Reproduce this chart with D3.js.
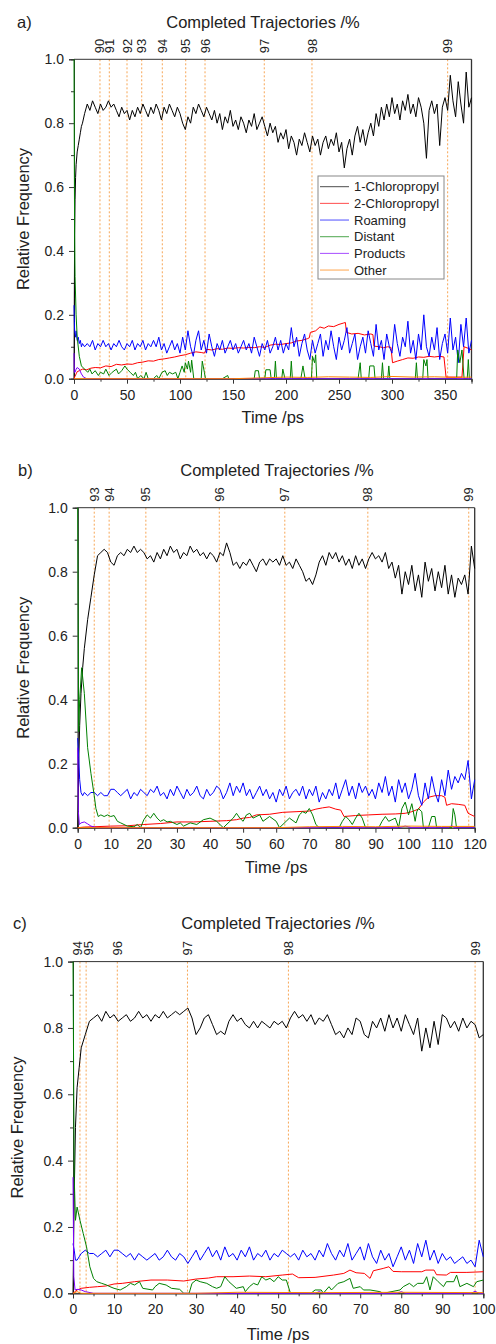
<!DOCTYPE html>
<html><head><meta charset="utf-8">
<script src="https://cdn.jsdelivr.net/npm/d3@7"></script>
<style>
body{margin:0;background:#fff;}
svg text{font-family:"Liberation Sans",Arial,sans-serif;fill:#222;}
</style>
</head><body>
<svg id="chart" width="496" height="1344"></svg>
<script>
// ---------------- DATA ----------------
const seriesNames = ["1-Chloropropyl","2-Chloropropyl","Roaming","Distant","Products","Other"];
const seriesColors = ["#000000","#ff0000","#0000ff","#008000","#8000ff","#ff8000"];

// Panel a
const aPctLabels = ["90","91","92","93","94","95","96","97","98","99"];
const aPctTimes = [24.5,33.3,50,63.9,83.3,105.4,123.6,179.5,224.5,352.5];
const aXTicks = [0,50,100,150,200,250,300,350];
const aXMinor = [25,75,125,175,225,275,325,375];
const aTime = [0,0.3,0.6,1,1.5,2,3,4,5,6,7,8,10].concat(d3.range(12.5, 375.01, 2.5));
const aChloro1 = [0.0,0.25,0.45,0.56,0.63,0.67,0.71,0.73,0.75,0.77,0.79,0.80,0.83,
 0.86,0.84,0.87,0.85,0.83,0.86,0.84,0.85,0.87,0.85,
 0.86,0.84,0.82,0.85,0.83,0.84,0.81,0.84,0.82,0.85,
 0.83,0.86,0.84,0.82,0.85,0.83,0.86,0.84,0.81,0.85,
 0.83,0.86,0.84,0.82,0.85,0.83,0.80,0.78,0.82,0.80,
 0.85,0.83,0.86,0.84,0.82,0.85,0.83,0.81,0.84,0.80,
 0.83,0.78,0.82,0.80,0.84,0.79,0.81,0.78,0.82,0.80,
 0.77,0.81,0.79,0.83,0.78,0.80,0.82,0.79,0.76,0.80,
 0.77,0.79,0.74,0.77,0.75,0.78,0.72,0.76,0.74,0.70,
 0.75,0.73,0.77,0.74,0.71,0.76,0.73,0.75,0.70,0.74,
 0.76,0.72,0.75,0.73,0.77,0.71,0.74,0.66,0.72,0.75,
 0.70,0.76,0.79,0.74,0.78,0.73,0.77,0.80,0.76,0.83,
 0.79,0.85,0.81,0.86,0.82,0.88,0.83,0.86,0.81,0.87,
 0.84,0.89,0.83,0.86,0.82,0.88,0.85,0.80,0.69,0.84,
 0.87,0.83,0.86,0.73,0.85,0.88,0.84,0.95,0.87,0.82,
 0.93,0.86,0.80,0.96,0.85,0.88];
const aRoaming = [0.23,0.18,0.15,0.14,0.13,0.15,0.12,0.13,0.11,0.12,0.10,0.11,0.10,
 0.11,0.10,0.12,0.09,0.11,0.10,0.12,0.10,0.11,0.09,
 0.11,0.10,0.12,0.10,0.09,0.11,0.10,0.12,0.09,0.11,
 0.10,0.12,0.09,0.11,0.10,0.12,0.10,0.13,0.09,0.11,
 0.08,0.10,0.12,0.09,0.11,0.08,0.13,0.09,0.15,0.10,
 0.07,0.12,0.15,0.09,0.12,0.08,0.14,0.10,0.07,0.11,
 0.09,0.12,0.08,0.10,0.12,0.09,0.11,0.08,0.10,0.12,
 0.09,0.11,0.08,0.13,0.10,0.07,0.11,0.09,0.12,0.08,
 0.10,0.13,0.09,0.12,0.08,0.11,0.09,0.16,0.10,0.13,
 0.07,0.11,0.14,0.09,0.06,0.12,0.08,0.11,0.14,0.07,
 0.12,0.09,0.15,0.10,0.06,0.13,0.09,0.12,0.16,0.08,
 0.11,0.14,0.06,0.10,0.13,0.08,0.15,0.11,0.07,0.17,
 0.09,0.12,0.06,0.14,0.10,0.08,0.17,0.11,0.07,0.13,
 0.10,0.18,0.08,0.12,0.06,0.14,0.09,0.20,0.10,0.07,
 0.13,0.09,0.16,0.06,0.11,0.14,0.08,0.19,0.09,0.13,
 0.05,0.17,0.10,0.19,0.08,0.12];
const aChloro2 = [[0,0],[1,0.008],[2,0.015],[3,0.022],[5,0.025],[8,0.03],[12,0.028],[16,0.033],[20,0.035],[25,0.034],[30,0.04],[35,0.038],[40,0.045],[45,0.043],[50,0.046],[55,0.045],[60,0.05],[65,0.052],[70,0.056],[75,0.055],[80,0.06],[85,0.062],[90,0.065],[95,0.068],[100,0.072],[105,0.075],[110,0.08],[115,0.084],[120,0.082],[123,0.08],[125,0.092],[130,0.09],[135,0.094],[140,0.092],[145,0.096],[150,0.095],[155,0.097],[160,0.096],[165,0.098],[170,0.097],[175,0.1],[180,0.098],[185,0.105],[190,0.108],[195,0.107],[200,0.11],[205,0.112],[210,0.118],[215,0.12],[220,0.125],[222,0.128],[223,0.145],[228,0.15],[232,0.162],[236,0.158],[240,0.165],[245,0.163],[250,0.17],[254,0.174],[256,0.176],[257,0.145],[262,0.14],[268,0.142],[274,0.137],[280,0.14],[282,0.138],[283,0.102],[288,0.1],[292,0.097],[296,0.1],[299,0.098],[300.5,0.05],[305,0.055],[310,0.06],[315,0.065],[320,0.064],[325,0.068],[330,0.067],[335,0.07],[340,0.068],[345,0.07],[349,0.068],[351,0.005],[366,0.005],[368,0.1],[372,0.095],[375,0.09]];
const aDistant = [[0,1.0],[0.3,0.68],[0.6,0.45],[1,0.32],[2,0.2],[3,0.13],[5,0.07],[7,0.04],[10,0.03],[13,0.02],[15,0.03],[17,0.015],[20,0.025],[23,0.01],[25,0.02],[28,0.015],[30,0.03],[33,0.01],[36,0.02],[40,0.03],[42,0.015],[45,0.025],[48,0.04],[50,0.03],[53,0.02],[56,0.01],[58,0.02],[60,0.0],[63,0.01],[66,0.0],[68,0.02],[70,0.0],[75,0.0],[78,0.01],[80,0.0],[83,0.02],[86,0.025],[88,0.01],[90,0.02],[93,0.015],[96,0.02],[98,0.0],[100,0.02],[102,0.04],[104,0.02],[105,0.05],[107,0.03],[108,0.055],[110,0.02],[111,0.058],[113,0.0],[120,0.0],[121,0.055],[123,0.02],[124,0.0],[140,0.0],[145,0.01],[146,0.0],[170,0.0],[171,0.025],[174,0.025],[175,0.0],[180,0.0],[181,0.028],[185,0.028],[186,0.0],[189,0.0],[190,0.055],[191,0.0],[196,0.0],[197,0.03],[199,0.0],[204,0.0],[205,0.055],[206,0.0],[214,0.0],[216,0.04],[218,0.0],[224,0.0],[225,0.07],[227,0.05],[228,0.075],[229,0.0],[268,0.0],[270,0.05],[271,0.0],[278,0.0],[279,0.04],[283,0.04],[284,0.0],[290,0.0],[291,0.05],[292,0.0],[296,0.0],[297,0.04],[298,0.0],[322,0.0],[323,0.05],[324,0.0],[329,0.0],[330,0.06],[332,0.04],[333,0.06],[334,0.0],[361,0.0],[362,0.09],[364,0.05],[366,0.09],[368,0.0],[371,0.0],[372,0.06],[373,0.0],[375,0.0]];
const aProducts = [[0,0.08],[0.3,0.02],[1,0.02],[2,0.03],[3,0.035],[5,0.03],[7,0.015],[9,0.005],[12,0],[375,0]];
const aOther = [[0,0],[150,0],[180,0.003],[200,0.005],[220,0.004],[240,0.006],[260,0.005],[280,0.004],[300,0.007],[320,0.005],[340,0.006],[360,0.004],[375,0.005]];

// Panel b
const bPctLabels = ["93","94","95","96","97","98","99"];
const bPctTimes = [5.0,9.5,20.6,42.8,62.6,87.7,118.2];
const bXTicks = [0,10,20,30,40,50,60,70,80,90,100,110,120];
const bXMinor = [5,15,25,35,45,55,65,75,85,95,105,115];
const bTime = [0,0.3,0.6,1,1.5,2,3,4,5,6,7,8].concat(d3.range(9, 120.01, 1));
const bChloro1 = [0.0,0.2,0.32,0.42,0.50,0.56,0.65,0.72,0.79,0.85,0.86,0.87,
 0.86,0.83,0.82,0.85,0.86,0.85,0.87,0.86,0.88,0.86,
 0.87,0.86,0.84,0.85,0.83,0.86,0.84,0.87,0.85,0.88,
 0.86,0.87,0.84,0.86,0.85,0.88,0.86,0.87,0.85,0.86,
 0.84,0.86,0.85,0.83,0.86,0.85,0.89,0.86,0.82,0.83,
 0.81,0.83,0.82,0.84,0.82,0.80,0.83,0.84,0.82,0.84,
 0.83,0.84,0.82,0.85,0.82,0.83,0.81,0.84,0.82,0.80,
 0.77,0.78,0.76,0.79,0.83,0.85,0.82,0.86,0.84,0.86,
 0.83,0.85,0.82,0.84,0.81,0.85,0.82,0.84,0.81,0.84,
 0.86,0.84,0.85,0.83,0.86,0.81,0.83,0.78,0.82,0.73,
 0.80,0.76,0.82,0.74,0.79,0.72,0.83,0.77,0.81,0.74,
 0.80,0.75,0.82,0.73,0.79,0.72,0.78,0.76,0.79,0.73,
 0.88,0.81];
const bRoaming = [0.28,0.22,0.15,0.11,0.10,0.11,0.10,0.11,0.11,0.10,0.11,0.10,
 0.10,0.12,0.12,0.11,0.10,0.11,0.12,0.09,0.11,0.10,
 0.12,0.11,0.10,0.12,0.11,0.13,0.10,0.11,0.09,0.12,
 0.10,0.13,0.11,0.09,0.12,0.10,0.11,0.13,0.10,0.09,
 0.12,0.10,0.11,0.13,0.12,0.09,0.11,0.14,0.10,0.13,
 0.11,0.14,0.10,0.12,0.09,0.11,0.13,0.10,0.12,0.09,
 0.11,0.08,0.12,0.10,0.13,0.09,0.11,0.12,0.10,0.13,
 0.09,0.12,0.10,0.13,0.08,0.11,0.09,0.12,0.10,0.14,
 0.09,0.12,0.15,0.10,0.13,0.09,0.14,0.11,0.13,0.10,
 0.12,0.09,0.14,0.11,0.16,0.10,0.13,0.08,0.15,0.11,
 0.14,0.09,0.12,0.17,0.10,0.07,0.14,0.09,0.16,0.11,
 0.08,0.15,0.10,0.18,0.12,0.16,0.14,0.17,0.15,0.21,
 0.09,0.15];
const bChloro2 = [[0,0],[2,0.002],[5,0.003],[10,0.005],[15,0.006],[20,0.01],[25,0.013],[30,0.018],[35,0.018],[40,0.02],[45,0.022],[48,0.025],[50,0.03],[52,0.032],[54,0.04],[58,0.042],[62,0.048],[66,0.05],[70,0.052],[72,0.058],[74,0.062],[76,0.065],[78,0.058],[79.5,0.055],[80.5,0.035],[84,0.038],[88,0.04],[92,0.042],[96,0.043],[99,0.045],[101,0.05],[103,0.058],[104.5,0.08],[106,0.095],[108,0.1],[110,0.1],[111,0.095],[111.5,0.07],[113,0.075],[115,0.073],[117,0.07],[118,0.045],[120,0.035]];
const bDistant = [[0,1.0],[0.3,0.3],[0.6,0.4],[1.2,0.5],[2,0.42],[3,0.25],[4,0.17],[5,0.1],[5.5,0.06],[6.2,0.035],[7,0.04],[8,0.035],[9,0.04],[10,0.035],[11,0.038],[12,0.02],[13,0.015],[15,0.005],[17,0.003],[18,0.01],[19,0.0],[20,0.025],[21,0.04],[22,0.03],[23,0.045],[24,0.03],[25,0.02],[26,0.025],[27,0.018],[28,0.02],[30,0.01],[31,0.015],[32,0.005],[34,0.015],[36,0.01],[38,0.025],[40,0.03],[42,0.02],[44,0.0],[46,0.02],[47,0.03],[48,0.045],[49,0.03],[50,0.02],[51,0.04],[52,0.045],[53,0.03],[55,0.04],[56,0.02],[58,0.035],[60,0.02],[61,0.0],[63,0.02],[64,0.03],[66,0.015],[67,0.04],[68,0.05],[69,0.045],[70,0.06],[71,0.04],[72,0.01],[73,0.0],[79,0.0],[80,0.02],[81,0.035],[82,0.025],[83,0.01],[84,0.03],[85,0.045],[86,0.03],[87,0.0],[91,0.0],[92,0.02],[93,0.035],[94,0.02],[96,0.03],[97,0.0],[98,0.06],[99,0.08],[100,0.04],[101,0.075],[102,0.02],[102.5,0.05],[103,0.06],[104,0.05],[104.5,0.0],[106,0.0],[107,0.035],[108,0.035],[108.5,0.0],[113,0.0],[113.5,0.06],[114,0.04],[114.5,0.0],[120,0.0]];
const bProducts = [[0,0.25],[0.2,0.05],[0.5,0.01],[1,0.015],[2,0.018],[3,0.012],[4,0.005],[6,0.0],[97,0.0],[99,0.005],[101,0.0],[112,0.0],[113,0.006],[114,0.0],[120,0.0]];
const bOther = [[0,0],[60,0],[70,0.003],[80,0.004],[90,0.003],[100,0.005],[110,0.004],[120,0.004]];

// Panel c
const cPctLabels = ["94","95","96","97","98","99"];
const cPctTimes = [1.7,3.2,10.8,27.9,52.5,98.0];
const cXTicks = [0,10,20,30,40,50,60,70,80,90,100];
const cXMinor = [5,15,25,35,45,55,65,75,85,95];
const cTime = [0,0.3,0.6,1,1.5,2,3,4].concat(d3.range(5, 100.01, 1));
const cChloro1 = [0.0,0.3,0.5,0.62,0.68,0.74,0.78,0.82,
 0.83,0.84,0.82,0.85,0.83,0.84,0.82,0.83,0.84,0.82,
 0.83,0.85,0.83,0.84,0.82,0.84,0.83,0.85,0.83,0.84,
 0.85,0.84,0.85,0.86,0.83,0.78,0.80,0.83,0.84,0.81,
 0.78,0.79,0.78,0.82,0.84,0.82,0.83,0.81,0.80,0.82,
 0.80,0.82,0.81,0.80,0.82,0.81,0.82,0.80,0.83,0.85,
 0.83,0.84,0.82,0.84,0.81,0.83,0.82,0.84,0.81,0.78,
 0.79,0.77,0.80,0.78,0.83,0.82,0.78,0.77,0.82,0.80,
 0.83,0.79,0.84,0.80,0.83,0.79,0.84,0.81,0.78,0.83,
 0.73,0.80,0.74,0.82,0.75,0.84,0.83,0.80,0.82,0.79,
 0.83,0.80,0.82,0.81,0.77,0.78];
const cRoaming = [0.15,0.13,0.10,0.10,0.11,0.12,0.13,0.12,
 0.12,0.11,0.12,0.13,0.11,0.13,0.13,0.12,0.11,0.12,
 0.10,0.12,0.11,0.10,0.11,0.12,0.10,0.11,0.13,0.11,
 0.10,0.12,0.11,0.09,0.11,0.13,0.10,0.12,0.14,0.11,
 0.13,0.10,0.14,0.11,0.12,0.10,0.13,0.11,0.14,0.10,
 0.12,0.11,0.13,0.10,0.12,0.11,0.13,0.12,0.11,0.12,
 0.10,0.13,0.11,0.12,0.10,0.13,0.11,0.15,0.12,0.10,
 0.13,0.11,0.15,0.10,0.12,0.14,0.10,0.15,0.11,0.09,
 0.13,0.10,0.12,0.08,0.11,0.14,0.10,0.13,0.09,0.15,
 0.11,0.16,0.10,0.13,0.09,0.12,0.10,0.11,0.09,0.10,
 0.11,0.09,0.10,0.08,0.16,0.11];
const cChloro2 = [[0,0],[0.5,0.005],[1,0.01],[2,0.015],[4,0.018],[6,0.02],[8,0.022],[10,0.028],[12,0.03],[15,0.035],[19,0.04],[23,0.04],[27,0.037],[30,0.043],[33,0.046],[35,0.05],[39,0.05],[43,0.052],[47,0.05],[51,0.055],[53.5,0.058],[55,0.047],[59,0.048],[63.5,0.055],[66,0.06],[67.5,0.07],[69,0.062],[71,0.06],[72.4,0.045],[73.2,0.068],[75.6,0.075],[77,0.08],[78,0.066],[80,0.065],[85,0.065],[86,0.07],[88,0.07],[88.6,0.056],[91,0.055],[92,0.063],[96,0.063],[100,0.065]];
const cDistant = [[0,1.0],[0.3,0.35],[0.6,0.22],[1,0.26],[1.7,0.22],[2.5,0.18],[3.3,0.14],[4.1,0.08],[5,0.045],[5.8,0.035],[7,0.03],[8.2,0.025],[9,0.02],[10,0.015],[11.5,0.01],[13,0.02],[14,0.03],[15,0.025],[16.2,0.035],[17,0.015],[19.4,0.01],[20,0.02],[21,0.03],[22.7,0.025],[24,0.015],[26,0.012],[27,0.0],[28.3,0.0],[29,0.03],[30,0.04],[31,0.035],[32.6,0.03],[34,0.02],[35,0.015],[36,0.02],[37,0.05],[38,0.035],[39.8,0.015],[41.5,0.02],[42,0.005],[43,0.02],[44,0.03],[45,0.025],[46,0.05],[47,0.04],[48,0.045],[49,0.035],[50,0.05],[51,0.04],[52,0.04],[53,0.0],[58,0.0],[59,0.01],[60.5,0.01],[61,0.0],[62.4,0.02],[63,0.01],[64.6,0.03],[66,0.035],[67.5,0.045],[68.3,0.015],[70,0.02],[70.8,0.01],[72.4,0.01],[74.8,0.005],[75.6,0.0],[79.7,0.01],[80.5,0.02],[82,0.03],[83,0.02],[84,0.03],[85.4,0.03],[86.2,0.05],[87,0.01],[87.8,0.05],[89,0.035],[90.3,0.02],[91,0.035],[92.8,0.035],[93.5,0.055],[94.3,0.02],[96,0.03],[97.6,0.02],[98.4,0.035],[100,0.04]];
const cProducts = [[0,0.35],[0.2,0.05],[0.5,0.01],[1,0.012],[2,0.01],[3,0.005],[5,0],[59,0],[60,0.005],[61,0],[79,0],[80,0.005],[81,0],[97,0],[98,0.006],[99,0],[100,0]];
const cOther = [[0,0],[1,0.005],[2,0],[30,0],[40,0.003],[60,0.002],[80,0.003],[100,0.002]];

// ---------------- LAYOUT ----------------
const panels = [
  {key:"a", tag:"a)", left:74, right:471.5, top:59.3, bottom:378.7, xMax:375,
   xTicks:aXTicks, xMinor:aXMinor, pctTimes:aPctTimes, pctLabels:aPctLabels,
   series:[d3.zip(aTime,aChloro1), aChloro2, d3.zip(aTime,aRoaming), aDistant, aProducts, aOther],
   tagX:17, titleY:28, titleX:263, xLabelY:423, yLabelX:29, legend:true},
  {key:"b", tag:"b)", left:77.7, right:474.7, top:507.7, bottom:827.7, xMax:120,
   xTicks:bXTicks, xMinor:bXMinor, pctTimes:bPctTimes, pctLabels:bPctLabels,
   series:[d3.zip(bTime,bChloro1), bChloro2, d3.zip(bTime,bRoaming), bDistant, bProducts, bOther],
   tagX:18, titleY:476, titleX:277, xLabelY:873, yLabelX:29, legend:false},
  {key:"c", tag:"c)", left:73, right:483.3, top:961.6, bottom:1293.3, xMax:100,
   xTicks:cXTicks, xMinor:cXMinor, pctTimes:cPctTimes, pctLabels:cPctLabels,
   series:[d3.zip(cTime,cChloro1), cChloro2, d3.zip(cTime,cRoaming), cDistant, cProducts, cOther],
   tagX:13, titleY:929, titleX:278, xLabelY:1340, yLabelX:23, legend:false}
];

const svg = d3.select("#chart");
const yMajor = [0,0.2,0.4,0.6,0.8,1.0];
const yMinor = [0.1,0.3,0.5,0.7,0.9];
const labelMinGap = 10.5;

function styleAxis(g){
  g.selectAll("path,line").attr("stroke","#333");
  g.selectAll("text").attr("font-size",14).attr("font-family","Liberation Sans, Arial, sans-serif").attr("fill","#222");
}

// spread neighbouring rotated labels so they do not overlap
function spread(pos){
  const p = pos.slice();
  for (let it=0; it<20; it++){
    for (let i=1;i<p.length;i++){
      const gap = p[i]-p[i-1];
      if (gap < labelMinGap){ const d=(labelMinGap-gap)/2; p[i-1]-=d; p[i]+=d; }
    }
  }
  return p;
}

panels.forEach(p => {
  const x = d3.scaleLinear().domain([0,p.xMax]).range([p.left,p.right]);
  const y = d3.scaleLinear().domain([0,1]).range([p.bottom,p.top]);
  const g = svg.append("g");
  const clipId = "clip-"+p.key;
  svg.append("clipPath").attr("id",clipId).append("rect")
    .attr("x",p.left-1).attr("y",p.top-1).attr("width",p.right-p.left+2).attr("height",p.bottom-p.top+2);

  // dotted percentile lines
  g.selectAll("line.pct").data(p.pctTimes).join("line").attr("class","pct")
    .attr("x1",d=>x(d)).attr("x2",d=>x(d)).attr("y1",p.top).attr("y2",p.bottom)
    .attr("stroke","#f7a656").attr("stroke-width",1).attr("stroke-dasharray","2,2");
  const lp = spread(p.pctTimes.map(d=>x(d)));
  g.selectAll("text.pct").data(p.pctTimes).join("text").attr("class","pct")
    .attr("transform",(d,i)=>`translate(${lp[i]},${p.top-6}) rotate(-90)`)
    .attr("dy","0.35em").attr("font-size",13).text((d,i)=>p.pctLabels[i]);

  // axes
  const ax = g.append("g").attr("transform",`translate(0,${p.bottom})`)
    .call(d3.axisBottom(x).tickValues(p.xTicks).tickSize(5).tickPadding(6).tickFormat(d3.format("d")));
  styleAxis(ax);
  const axm = g.append("g").attr("transform",`translate(0,${p.bottom})`)
    .call(d3.axisBottom(x).tickValues(p.xMinor).tickSize(3).tickFormat(""));
  styleAxis(axm);
  const ay = g.append("g").attr("transform",`translate(${p.left},0)`)
    .call(d3.axisLeft(y).tickValues(yMajor).tickSize(5).tickPadding(5).tickFormat(d3.format(".1f")));
  styleAxis(ay);
  const aym = g.append("g").attr("transform",`translate(${p.left},0)`)
    .call(d3.axisLeft(y).tickValues(yMinor).tickSize(3).tickFormat(""));
  styleAxis(aym);

  // frame top/right
  g.append("line").attr("x1",p.left).attr("x2",p.right).attr("y1",p.top).attr("y2",p.top).attr("stroke","#333");
  g.append("line").attr("x1",p.right).attr("x2",p.right).attr("y1",p.top).attr("y2",p.bottom).attr("stroke","#333").attr("stroke-width",1.3);

  // series
  const line = d3.line().x(d=>x(d[0])).y(d=>y(d[1]));
  p.series.forEach((s,i) => {
    g.append("path").datum(s).attr("clip-path",`url(#${clipId})`)
      .attr("fill","none").attr("stroke",seriesColors[i]).attr("stroke-width",1)
      .attr("stroke-linejoin","round").attr("d",line);
  });

  // labels
  g.append("text").attr("x",p.tagX).attr("y",p.titleY).attr("font-size",16.5).text(p.tag);
  g.append("text").attr("x",p.titleX).attr("y",p.titleY).attr("font-size",16.5).attr("text-anchor","middle").text("Completed Trajectories /%");
  g.append("text").attr("x",(p.left+p.right)/2).attr("y",p.xLabelY).attr("font-size",16.5).attr("text-anchor","middle").text("Time /ps");
  g.append("text").attr("transform",`translate(${p.yLabelX},${(p.top+p.bottom)/2}) rotate(-90)`)
    .attr("font-size",16.5).attr("text-anchor","middle").text("Relative Frequency");

  if (p.legend) {
    const lg = g.append("g");
    lg.append("rect").attr("x",318).attr("y",176).attr("width",126).attr("height",103)
      .attr("fill","#fff").attr("stroke","#888").attr("stroke-width",1);
    seriesNames.forEach((n,i) => {
      const yy = 186.7 + i*16.67;
      lg.append("line").attr("x1",320).attr("x2",349).attr("y1",yy).attr("y2",yy)
        .attr("stroke",seriesColors[i]).attr("stroke-width",1).attr("stroke-opacity",0.7);
      lg.append("text").attr("x",354).attr("y",yy).attr("dy","0.35em").attr("font-size",13).text(n);
    });
  }
});
</script>
</body></html>
